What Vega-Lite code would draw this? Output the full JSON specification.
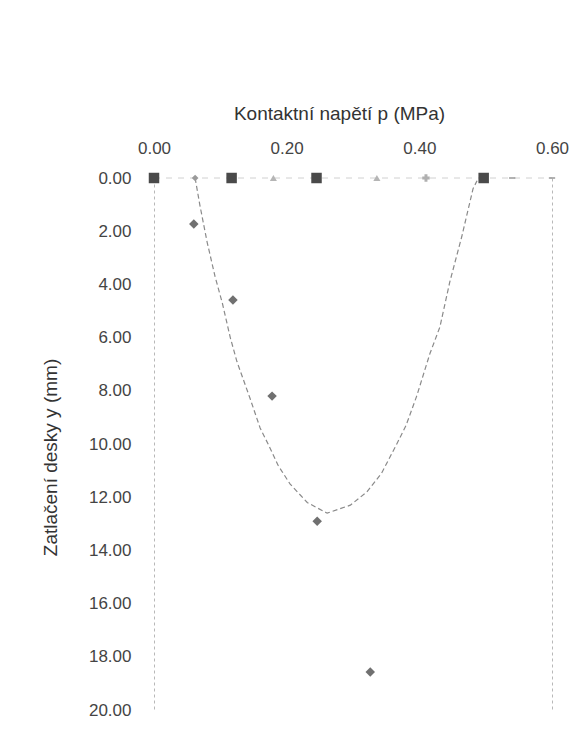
{
  "$schema": "https://vega.github.io/schema/vega-lite/v6.json",
  "width": 398,
  "height": 532,
  "autosize": {"type": "none"},
  "padding": {"left": 154, "top": 178, "right": 22, "bottom": 28},
  "background": "white",
  "config": {
    "view": {"stroke": null},
    "font": "Liberation Sans"
  },
  "datasets": {
    "curve": [
      {"i": 0, "p": 0.062, "y": 0.0},
      {"i": 1, "p": 0.069, "y": 1.0},
      {"i": 2, "p": 0.080, "y": 2.4},
      {"i": 3, "p": 0.092, "y": 3.7},
      {"i": 4, "p": 0.103, "y": 4.7},
      {"i": 5, "p": 0.115, "y": 6.0},
      {"i": 6, "p": 0.125, "y": 6.9},
      {"i": 7, "p": 0.145, "y": 8.3},
      {"i": 8, "p": 0.160, "y": 9.4},
      {"i": 9, "p": 0.172, "y": 10.0},
      {"i": 10, "p": 0.187, "y": 10.8},
      {"i": 11, "p": 0.205, "y": 11.5},
      {"i": 12, "p": 0.231, "y": 12.2},
      {"i": 13, "p": 0.261, "y": 12.6},
      {"i": 14, "p": 0.296, "y": 12.3},
      {"i": 15, "p": 0.321, "y": 11.8},
      {"i": 16, "p": 0.343, "y": 11.1},
      {"i": 17, "p": 0.366, "y": 10.0},
      {"i": 18, "p": 0.380, "y": 9.3},
      {"i": 19, "p": 0.396, "y": 8.2},
      {"i": 20, "p": 0.416, "y": 6.6},
      {"i": 21, "p": 0.431, "y": 5.6},
      {"i": 22, "p": 0.446, "y": 3.9},
      {"i": 23, "p": 0.464, "y": 2.2},
      {"i": 24, "p": 0.481, "y": 0.4},
      {"i": 25, "p": 0.487, "y": 0.1}
    ],
    "measured": [
      {"p": 0.060, "y": 1.73},
      {"p": 0.119, "y": 4.59},
      {"p": 0.178, "y": 8.2},
      {"p": 0.246, "y": 12.9},
      {"p": 0.326, "y": 18.57}
    ],
    "top": [
      {"p": 0.0, "y": 0, "kind": "square"},
      {"p": 0.062, "y": 0, "kind": "diamond"},
      {"p": 0.117, "y": 0, "kind": "square"},
      {"p": 0.18, "y": 0, "kind": "triangle"},
      {"p": 0.245, "y": 0, "kind": "square"},
      {"p": 0.336, "y": 0, "kind": "triangle"},
      {"p": 0.41, "y": 0, "kind": "star"},
      {"p": 0.497, "y": 0, "kind": "square"},
      {"p": 0.54, "y": 0, "kind": "dash"},
      {"p": 0.60, "y": 0, "kind": "dash"}
    ]
  },
  "encoding": {
    "x": {
      "field": "p",
      "type": "quantitative",
      "scale": {"domain": [0, 0.6], "nice": false, "zero": false},
      "axis": {
        "orient": "top",
        "title": "Kontaktní napětí p (MPa)",
        "values": [0, 0.2, 0.4, 0.6],
        "format": ".2f",
        "domain": false,
        "ticks": false,
        "tickSize": 0,
        "labelFlush": false,
        "labelOverlap": false,
        "labelPadding": 25,
        "labelBaseline": "alphabetic",
        "labelFontSize": 17,
        "labelColor": "#444",
        "labelFont": "Liberation Sans",
        "titleFont": "Liberation Sans",
        "titleFontSize": 19,
        "titleFontWeight": "normal",
        "titleColor": "#333",
        "titleX": 185,
        "titleY": -65,
        "titleBaseline": "middle",
        "titleAlign": "center",
        "grid": true,
        "gridColor": "#b8b8b8",
        "gridDash": [3, 3],
        "gridOpacity": {"condition": {"test": "datum.value === 0 || datum.value === 0.6", "value": 1}, "value": 0}
      }
    },
    "y": {
      "field": "y",
      "type": "quantitative",
      "scale": {"domain": [0, 20], "reverse": true, "nice": false, "zero": false},
      "axis": {
        "orient": "left",
        "title": "Zatlačení desky y (mm)",
        "values": [0, 2, 4, 6, 8, 10, 12, 14, 16, 18, 20],
        "format": ".2f",
        "domain": false,
        "ticks": false,
        "tickSize": 0,
        "grid": false,
        "labelFlush": false,
        "labelOverlap": false,
        "labelPadding": 23,
        "labelFontSize": 17,
        "labelColor": "#444",
        "labelFont": "Liberation Sans",
        "titleFont": "Liberation Sans",
        "titleFontSize": 19,
        "titleFontWeight": "normal",
        "titleColor": "#333",
        "titleX": -104,
        "titleY": 279,
        "titleBaseline": "middle",
        "titleAlign": "center"
      }
    }
  },
  "layer": [
    {
      "data": {"name": "top"},
      "mark": {"type": "line", "color": "#d0d0d0", "strokeWidth": 1, "strokeDash": [6, 6]},
      "encoding": {}
    },
    {
      "data": {"name": "curve"},
      "mark": {"type": "line", "color": "#8a8a8a", "strokeWidth": 1.2, "strokeDash": [5, 3]},
      "encoding": {"order": {"field": "i", "type": "quantitative"}}
    },
    {
      "data": {"name": "measured"},
      "mark": {"type": "point", "shape": "diamond", "filled": true, "color": "#707070", "size": 90, "opacity": 1}
    },
    {
      "data": {"name": "top"},
      "transform": [{"filter": "datum.kind === 'square'"}],
      "mark": {"type": "point", "shape": "square", "filled": true, "color": "#4a4a4a", "size": 110, "opacity": 1}
    },
    {
      "data": {"name": "top"},
      "transform": [{"filter": "datum.kind === 'diamond'"}],
      "mark": {"type": "point", "shape": "diamond", "filled": true, "color": "#9a9a9a", "size": 45, "opacity": 1}
    },
    {
      "data": {"name": "top"},
      "transform": [{"filter": "datum.kind === 'triangle'"}],
      "mark": {"type": "point", "shape": "triangle-up", "filled": true, "color": "#b5b5b5", "size": 50, "opacity": 1}
    },
    {
      "data": {"name": "top"},
      "transform": [{"filter": "datum.kind === 'star'"}],
      "mark": {"type": "point", "shape": "cross", "filled": true, "color": "#b0b0b0", "size": 55, "opacity": 1}
    },
    {
      "data": {"name": "top"},
      "transform": [{"filter": "datum.kind === 'dash'"}],
      "mark": {"type": "point", "shape": "stroke", "color": "#999", "size": 40, "strokeWidth": 1.5, "opacity": 1}
    }
  ]
}
